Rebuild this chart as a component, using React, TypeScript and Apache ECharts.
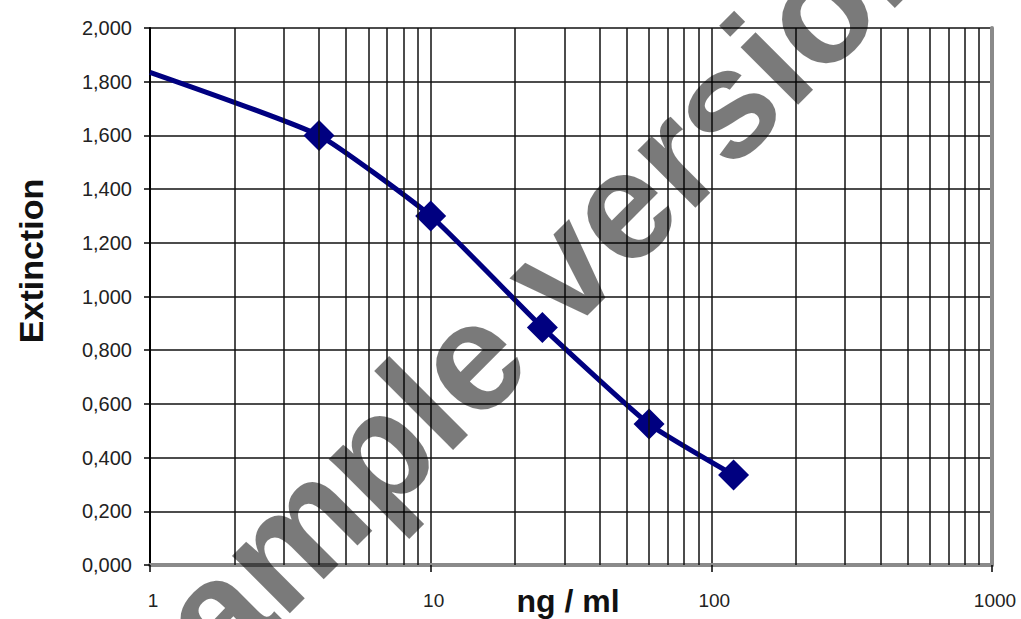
import React, { useEffect, useRef } from "react";
import * as echarts from "echarts";

// Concentration (ng/ml) of the standards and their extinction
const standardConc = [4, 10, 25, 60, 120];
const standardExt = [1.6, 1.3, 0.885, 0.525, 0.335];
// Fitted curve points
const curveConc = [1, 4, 10, 25, 60, 120];
const curveExt = [1.835, 1.6, 1.3, 0.885, 0.525, 0.335];
// Log-axis minor grid values
const minorGridX = [2, 3, 4, 5, 6, 7, 8, 9, 20, 30, 40, 50, 60, 70, 80, 90, 200, 300, 400, 500, 600, 700, 800, 900];
const yTitle = "Extinction";
const xTitle = "ng / ml";
const watermark = "sample version";

export default function App() {
  const ref = useRef<HTMLDivElement>(null);
  useEffect(() => {
    if (!ref.current) return;
    const chart = echarts.init(ref.current, null, { renderer: "svg" });
    const gridLine = { color: "#111", width: 1.5 };
    const font = "Liberation Sans";
    chart.setOption({
      animation: false,
      backgroundColor: "#fff",
      grid: { left: 150, right: 29, top: 28, bottom: 54, containLabel: false },
      xAxis: [
        {
          type: "log",
          logBase: 10,
          min: 1,
          max: 1000,
          position: "bottom",
          axisLine: { show: true, lineStyle: { color: "#000", width: 2 } },
          axisTick: { show: true, inside: false, length: 7, lineStyle: { color: "#000", width: 1.5 } },
          axisLabel: {
            show: true,
            margin: 26,
            fontSize: 19,
            fontFamily: font,
            color: "#222",
            padding: [0, 0, 0, 6],
            formatter: (v: number) => String(Math.round(v)),
          },
          splitLine: { show: true, lineStyle: gridLine },
          minorTick: { show: false },
          minorSplitLine: { show: false },
        },
        {
          type: "log",
          logBase: 10,
          min: 1,
          max: 1000,
          position: "top",
          axisLine: { show: true, lineStyle: { color: "#8a8a8a", width: 4 } },
          axisTick: { show: false },
          axisLabel: { show: false },
          splitLine: { show: false },
        },
      ],
      yAxis: [
        {
          type: "value",
          min: 0,
          max: 2,
          interval: 0.2,
          position: "left",
          axisLine: { show: true, lineStyle: { color: "#000", width: 2 } },
          axisTick: { show: true, inside: false, length: 6, lineStyle: { color: "#000", width: 1.5 } },
          axisLabel: {
            margin: 18,
            fontSize: 20,
            fontFamily: font,
            color: "#222",
            formatter: (v: number) => v.toFixed(3).replace(".", ","),
          },
          splitLine: { show: true, lineStyle: gridLine },
        },
        {
          type: "value",
          min: 0,
          max: 2,
          interval: 0.2,
          position: "right",
          axisLine: { show: true, lineStyle: { color: "#8a8a8a", width: 4 } },
          axisTick: { show: false },
          axisLabel: { show: false },
          splitLine: { show: false },
        },
      ],
      series: [
        {
          type: "line",
          data: [],
          z: 1,
          silent: true,
          markLine: {
            silent: true,
            symbol: ["none", "none"],
            label: { show: false },
            lineStyle: { color: "#111", width: 1.5, type: "solid" },
            data: minorGridX.map((v) => ({ xAxis: v })),
          },
        },
        {
          type: "line",
          data: curveConc.map((c, i) => [c, curveExt[i]]),
          smooth: 0.15,
          showSymbol: false,
          z: 3,
          lineStyle: { color: "#000080", width: 5 },
        },
        {
          type: "scatter",
          data: standardConc.map((c, i) => [c, standardExt[i]]),
          symbol: "diamond",
          symbolSize: 31,
          z: 4,
          itemStyle: { color: "#000080", opacity: 1 },
        },
      ],
      graphic: [
        {
          type: "text",
          x: 31,
          y: 261,
          rotation: Math.PI / 2,
          style: {
            text: yTitle,
            fontSize: 34,
            fontWeight: "bold",
            fontFamily: font,
            fill: "#111",
            align: "center",
            verticalAlign: "middle",
            textAlign: "center",
            textVerticalAlign: "middle",
          },
        },
        {
          type: "text",
          x: 568,
          y: 601,
          style: {
            text: xTitle,
            fontSize: 32,
            fontWeight: "bold",
            fontFamily: font,
            fill: "#111",
            align: "center",
            verticalAlign: "middle",
            textAlign: "center",
            textVerticalAlign: "middle",
          },
        },
        {
          type: "text",
          x: 520,
          y: 308,
          rotation: Math.PI / 4,
          z: 100,
          silent: true,
          style: {
            text: watermark,
            fontSize: 154,
            fontWeight: "bold",
            fontFamily: font,
            fill: "rgba(0,0,0,0.52)",
            align: "center",
            verticalAlign: "middle",
            textAlign: "center",
            textVerticalAlign: "middle",
          },
        },
      ],
    });
    return () => chart.dispose();
  }, []);
  return (
    <div
      ref={ref}
      style={{ position: "absolute", left: 0, top: 0, width: 1021, height: 619, background: "#fff" }}
    />
  );
}
